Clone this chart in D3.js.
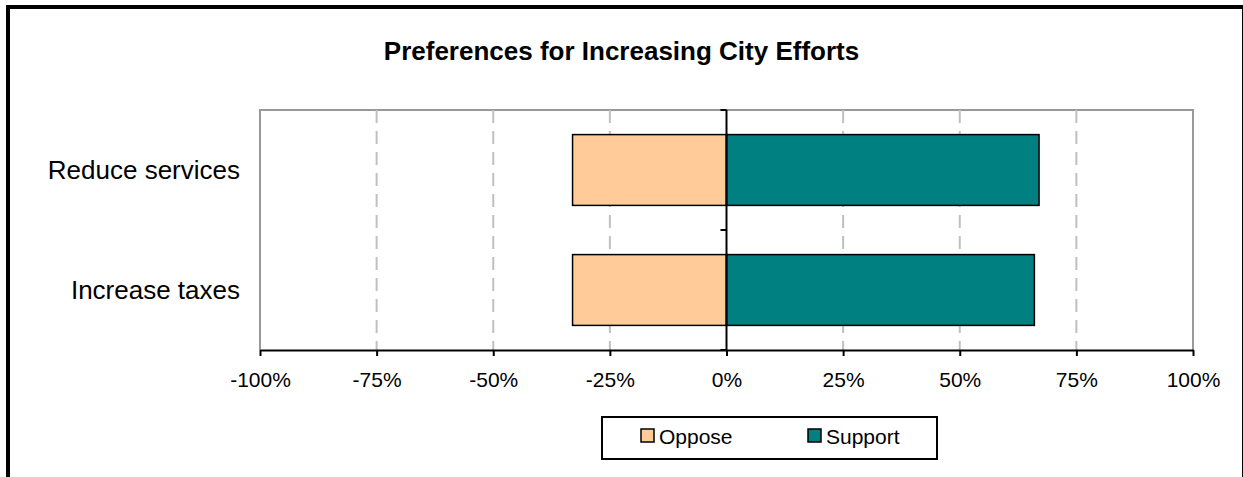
<!DOCTYPE html>
<html>
<head>
<meta charset="utf-8">
<script src="https://cdn.jsdelivr.net/npm/d3@7"></script>
<style>
html,body{margin:0;padding:0;background:#fff;}
svg{display:block;font-family:"Liberation Sans",Arial,sans-serif;}
</style>
</head>
<body>
<svg id="chart" width="1243" height="477"></svg>
<script>
const categories = ["Reduce services", "Increase taxes"];
const seriesNames = ["Oppose", "Support"];
const oppose = [-33, -33];
const support = [67, 66];
const tickValues = [-100, -75, -50, -25, 0, 25, 50, 75, 100];
const tickLabels = ["-100%", "-75%", "-50%", "-25%", "0%", "25%", "50%", "75%", "100%"];
const colors = ["#FFCC99", "#008080"];
const title = "Preferences for Increasing City Efforts";

(function () {
const svg = d3.select("#chart");

svg.append("rect").attr("x", 8).attr("y", 7).attr("width", 1236).attr("height", 480)
  .attr("fill", "none").attr("stroke", "#000").attr("stroke-width", 4);

const pL = 260, pR = 1193, pT = 110, pB = 350;
const x = d3.scaleLinear().domain([-100, 100]).range([pL, pR]);
const y = d3.scaleBand().domain(categories).range([pT, pB]).padding(0);

svg.append("text").attr("x", 621.5).attr("y", 60).attr("text-anchor", "middle")
  .attr("font-weight", "bold").attr("font-size", 26).text(title);

svg.append("path")
  .attr("d", `M${pL},${pB}V${pT}H${pR}V${pB}`)
  .attr("fill", "none").attr("stroke", "#999").attr("stroke-width", 2);

svg.append("g").selectAll("line")
  .data(tickValues.filter(v => v !== 0 && Math.abs(v) !== 100))
  .join("line")
  .attr("x1", d => x(d)).attr("x2", d => x(d))
  .attr("y1", pT).attr("y2", pB)
  .attr("stroke", "#c0c0c0").attr("stroke-width", 2).attr("stroke-dasharray", "13,8");

const inset = 0.205, frac = 0.59;
const rows = categories.map((c, i) => ({c, o: oppose[i], s: support[i]}));
const g = svg.append("g");
g.selectAll("rect.opp").data(rows).join("rect").attr("class", "opp")
  .attr("x", d => x(d.o)).attr("width", d => x(0) - x(d.o))
  .attr("y", d => y(d.c) + y.bandwidth() * inset).attr("height", y.bandwidth() * frac)
  .attr("fill", colors[0]).attr("stroke", "#000").attr("stroke-width", 1.5);
g.selectAll("rect.sup").data(rows).join("rect").attr("class", "sup")
  .attr("x", x(0)).attr("width", d => x(d.s) - x(0))
  .attr("y", d => y(d.c) + y.bandwidth() * inset).attr("height", y.bandwidth() * frac)
  .attr("fill", colors[1]).attr("stroke", "#000").attr("stroke-width", 1.5);

const xAxis = d3.axisBottom(x).tickValues(tickValues)
  .tickFormat((d, i) => tickLabels[i]).tickSize(6).tickSizeOuter(0);
const xg = svg.append("g").attr("transform", `translate(0,${pB})`).call(xAxis);
xg.select(".domain").attr("stroke", "#000").attr("stroke-width", 2);
xg.selectAll(".tick line").attr("stroke", "#000").attr("stroke-width", 2);
xg.selectAll(".tick text").attr("font-size", 21).attr("fill", "#000")
  .attr("font-family", "Liberation Sans, Arial, sans-serif").attr("dy", null).attr("y", 37);

const yTicks = [pT, pT + y.bandwidth(), pB];
svg.append("line").attr("x1", x(0)).attr("x2", x(0)).attr("y1", pT).attr("y2", pB)
  .attr("stroke", "#000").attr("stroke-width", 2);
svg.append("g").selectAll("line").data(yTicks).join("line")
  .attr("x1", x(0) - 6).attr("x2", x(0)).attr("y1", d => d).attr("y2", d => d)
  .attr("stroke", "#000").attr("stroke-width", 2);

svg.append("g").selectAll("text").data(categories).join("text")
  .attr("x", 240).attr("y", d => y(d) + y.bandwidth() / 2 + 9)
  .attr("text-anchor", "end").attr("font-size", 26).text(d => d);

const lg = svg.append("g");
lg.append("rect").attr("x", 602).attr("y", 417).attr("width", 335).attr("height", 42)
  .attr("fill", "#fff").attr("stroke", "#000").attr("stroke-width", 2);
const legX = [641, 808];
seriesNames.forEach((n, i) => {
  lg.append("rect").attr("x", legX[i]).attr("y", 429).attr("width", 13).attr("height", 13)
    .attr("fill", colors[i]).attr("stroke", "#000").attr("stroke-width", 1.5);
  lg.append("text").attr("x", legX[i] + 18).attr("y", 444).attr("font-size", 21).text(n);
});
})();
</script>
</body>
</html>
